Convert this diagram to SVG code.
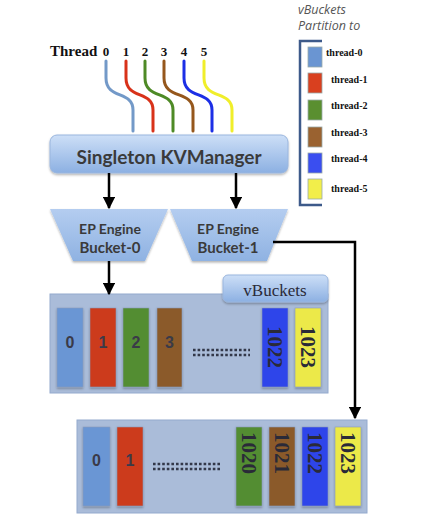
<svg xmlns="http://www.w3.org/2000/svg" width="423" height="521" viewBox="0 0 423 521">
<style>
.wire{fill:none;stroke-width:3;stroke-linecap:round}
.conn{fill:none;stroke:#000;stroke-width:2.5}
.box{fill:url(#g1);stroke:#9ab6de;stroke-width:1}
.trap{fill:url(#g2);stroke:none}
.bt{font-family:Lato,"Liberation Sans",sans-serif;font-weight:bold;fill:#3a3a3a;text-anchor:middle}
.num{font-family:"Liberation Sans",sans-serif;font-weight:bold;font-size:16px;fill:#3a3a48;text-anchor:middle}
.rot{font-family:"Liberation Serif",serif;font-weight:bold;font-size:21px;fill:#2a2a38;text-anchor:middle}
.cont{fill:#aabcd9;stroke:#94aacd;stroke-width:1}
.bar{stroke:#8a9cba;stroke-width:0.6}
.lg{font-family:"Liberation Serif",serif;font-weight:bold;font-size:10px;fill:#111}
.sw{stroke:#9aa;stroke-width:0.8}
.dots{stroke:#33384a;stroke-width:2.6;stroke-dasharray:2.6 2}
</style>
<defs>
<linearGradient id="g1" x1="0" y1="0" x2="0" y2="1">
<stop offset="0" stop-color="#cddff7"/><stop offset="1" stop-color="#8cb0e2"/>
</linearGradient>
<linearGradient id="g2" x1="0" y1="0" x2="0" y2="1">
<stop offset="0" stop-color="#b4cdf0"/><stop offset="1" stop-color="#8fb2e2"/>
</linearGradient>
<marker id="ah" viewBox="0 0 10 10" refX="9" refY="5" markerWidth="5" markerHeight="5" orient="auto">
<path d="M0,0 L10,5 L0,10 z" fill="#000"/>
</marker>
<filter id="sh" x="-5%" y="-5%" width="115%" height="125%">
<feDropShadow dx="0" dy="1.5" stdDeviation="1.2" flood-color="#000" flood-opacity="0.3"/>
</filter>
</defs>

<g id="threads">
<text x="50" y="56" font-family="Liberation Serif,serif" font-weight="bold" font-size="15" fill="#111">Thread</text>
<g font-family="Liberation Serif,serif" font-weight="bold" font-size="13" fill="#111" text-anchor="middle">
<text x="106" y="56">0</text><text x="126" y="56">1</text><text x="145" y="56">2</text>
<text x="164" y="56">3</text><text x="184" y="56">4</text><text x="204" y="56">5</text>
</g>
<path class="wire" stroke="#7399c8" d="M106,61 L106,78 C106,100 133,90 133,110 L133,131"/>
<path class="wire" stroke="#d8321a" d="M126,61 L126,78 C126,100 153,90 153,110 L153,131"/>
<path class="wire" stroke="#4e8a26" d="M145,61 L145,78 C145,100 173,90 173,110 L173,131"/>
<path class="wire" stroke="#95571c" d="M164,61 L164,78 C164,100 193,90 193,110 L193,131"/>
<path class="wire" stroke="#1c2fe6" d="M184,61 L184,78 C184,100 212,90 212,110 L212,131"/>
<path class="wire" stroke="#f0ee2a" d="M204,61 L204,78 C204,100 232,90 232,110 L232,131"/>
</g>

<g id="legend">
<text x="298" y="14" font-family="Open Sans,Liberation Sans,sans-serif" font-style="italic" font-size="12.5" fill="#555">vBuckets</text>
<text x="298" y="30" font-family="Open Sans,Liberation Sans,sans-serif" font-style="italic" font-size="12.5" fill="#555">Partition to</text>
<path d="M322,41 L300,41 L300,205 L322,205" fill="none" stroke="#3d5a8a" stroke-width="2.5"/>
<rect class="sw" x="308" y="47" width="14" height="20" fill="#6a95d2"/>
<rect class="sw" x="308" y="73" width="14" height="20" fill="#d9401f"/>
<rect class="sw" x="308" y="100" width="14" height="20" fill="#5a8f30"/>
<rect class="sw" x="308" y="127" width="14" height="20" fill="#9a6230"/>
<rect class="sw" x="308" y="153" width="14" height="20" fill="#3a4ef0"/>
<rect class="sw" x="308" y="179" width="14" height="20" fill="#f2ee4a"/>
<text class="lg" x="326" y="56">thread-0</text>
<text class="lg" x="331" y="83">thread-1</text>
<text class="lg" x="331" y="109">thread-2</text>
<text class="lg" x="331" y="136">thread-3</text>
<text class="lg" x="331" y="162">thread-4</text>
<text class="lg" x="331" y="192">thread-5</text>
</g>

<g id="kvmanager">
<rect class="box" x="50" y="135" width="238" height="38" rx="7" filter="url(#sh)"/>
<text class="bt" x="169" y="164" font-size="19">Singleton KVManager</text>
</g>

<g id="bucket0">
<path class="trap" d="M50,209 L168,209 L145,261 L73,261 z" filter="url(#sh)"/>
<text class="bt" x="110" y="234" font-size="14">EP Engine</text>
<text class="bt" x="110" y="253" font-size="15">Bucket-0</text>
</g>

<g id="bucket1">
<path class="trap" d="M170,209 L288,209 L267,261 L192,261 z" filter="url(#sh)"/>
<text class="bt" x="228" y="234" font-size="14">EP Engine</text>
<text class="bt" x="228" y="253" font-size="15">Bucket-1</text>
</g>

<g id="vbuckets0">
<rect class="cont" x="50" y="294" width="278" height="99"/>
<rect x="223" y="275" width="105" height="27" rx="5" fill="url(#g1)" stroke="#9ab6de" filter="url(#sh)"/>
<text x="275" y="296" font-family="Liberation Serif,serif" font-size="17" fill="#2a2a38" text-anchor="middle">vBuckets</text>
<g filter="url(#sh)">
<rect class="bar" x="57" y="308" width="26" height="79" fill="#6a96d4"/>
<rect class="bar" x="90" y="308" width="26" height="79" fill="#cc3a1a"/>
<rect class="bar" x="123" y="308" width="26" height="79" fill="#538d33"/>
<rect class="bar" x="157" y="308" width="25" height="79" fill="#8b5a2b"/>
<rect class="bar" x="262" y="308" width="26" height="79" fill="#2e44ea"/>
<rect class="bar" x="295" y="308" width="26" height="79" fill="#ece94a"/>
</g>
<text class="num" x="70" y="348">0</text>
<text class="num" x="103" y="348">1</text>
<text class="num" x="136" y="348">2</text>
<text class="num" x="169.5" y="348">3</text>
<line class="dots" x1="193" y1="350" x2="250" y2="350"/>
<line class="dots" x1="193" y1="355" x2="250" y2="355"/>
<text class="rot" transform="translate(275,347) rotate(90)" y="7">1022</text>
<text class="rot" transform="translate(308,347) rotate(90)" y="7">1023</text>
</g>

<g id="vbuckets1">
<rect class="cont" x="77" y="420" width="290" height="93"/>
<g filter="url(#sh)">
<rect class="bar" x="83" y="427" width="27" height="79" fill="#6a96d4"/>
<rect class="bar" x="117" y="427" width="26" height="79" fill="#cc3a1a"/>
<rect class="bar" x="236" y="427" width="26" height="79" fill="#538d33"/>
<rect class="bar" x="269" y="427" width="26" height="79" fill="#8b5a2b"/>
<rect class="bar" x="302" y="427" width="26" height="79" fill="#2e44ea"/>
<rect class="bar" x="335" y="427" width="26" height="79" fill="#ece94a"/>
</g>
<text class="num" x="96.5" y="466">0</text>
<text class="num" x="130" y="466">1</text>
<line class="dots" x1="153" y1="464" x2="220" y2="464"/>
<line class="dots" x1="153" y1="469" x2="220" y2="469"/>
<text class="rot" transform="translate(249,453) rotate(90)" y="7">1020</text>
<text class="rot" transform="translate(282,453) rotate(90)" y="7">1021</text>
<text class="rot" transform="translate(315,453) rotate(90)" y="7">1022</text>
<text class="rot" transform="translate(348,453) rotate(90)" y="7">1023</text>
</g>

<g id="connectors">
<line class="conn" x1="109" y1="173" x2="109" y2="208" marker-end="url(#ah)"/>
<line class="conn" x1="236" y1="173" x2="236" y2="208" marker-end="url(#ah)"/>
<line class="conn" x1="109" y1="261" x2="109" y2="294" marker-end="url(#ah)"/>
<path class="conn" d="M273,242 L355,242 L355,418" marker-end="url(#ah)"/>
</g>
</svg>
